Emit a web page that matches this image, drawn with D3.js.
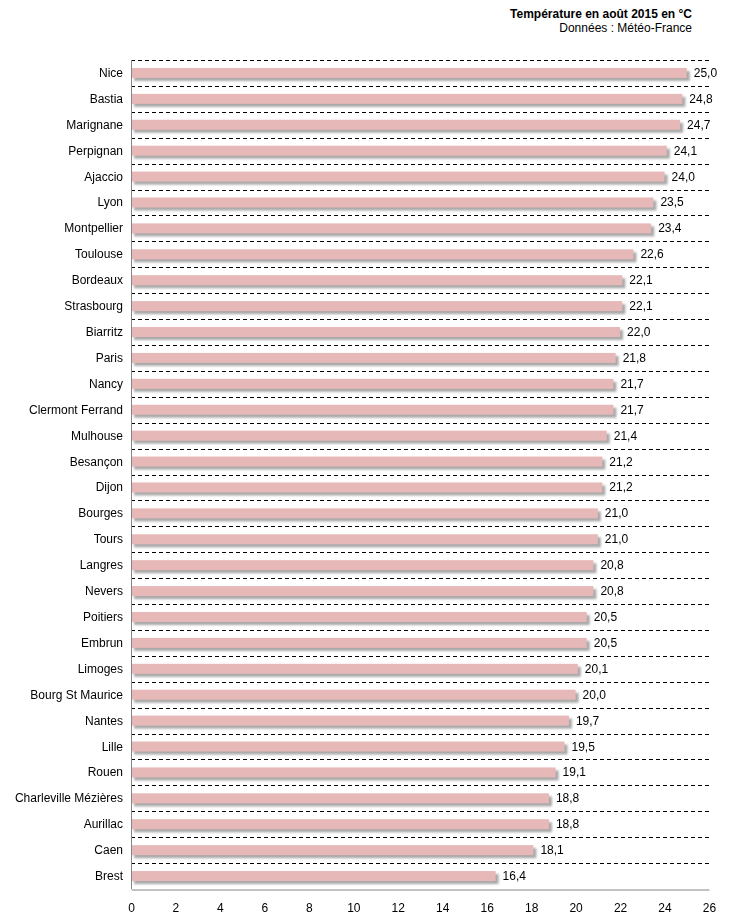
<!DOCTYPE html>
<html>
<head>
<meta charset="utf-8">
<script src="https://cdn.jsdelivr.net/npm/d3@7"></script>
<style>
  body { margin: 0; background: #fff; }
  text { font-family: "Liberation Sans", Arial, sans-serif; fill: #000; }
</style>
</head>
<body>
<div id="chart"></div>
<script>
// temperatures moyennes, août 2015
const cities = ["Nice", "Bastia", "Marignane", "Perpignan", "Ajaccio", "Lyon", "Montpellier",
  "Toulouse", "Bordeaux", "Strasbourg", "Biarritz", "Paris", "Nancy", "Clermont Ferrand",
  "Mulhouse", "Besançon", "Dijon", "Bourges", "Tours", "Langres", "Nevers", "Poitiers",
  "Embrun", "Limoges", "Bourg St Maurice", "Nantes", "Lille", "Rouen",
  "Charleville Mézières", "Aurillac", "Caen", "Brest"];
const temps = [25.0, 24.8, 24.7, 24.1, 24.0, 23.5, 23.4, 22.6, 22.1, 22.1, 22.0, 21.8, 21.7,
  21.7, 21.4, 21.2, 21.2, 21.0, 21.0, 20.8, 20.8, 20.5, 20.5, 20.1, 20.0, 19.7, 19.5, 19.1,
  18.8, 18.8, 18.1, 16.4];
const xTicks = [0, 2, 4, 6, 8, 10, 12, 14, 16, 18, 20, 22, 24, 26];
const title = "Température en août 2015 en °C";
const source = "Données : Météo-France";

const width = 729, height = 924;
const margin = {top: 60, right: 20, bottom: 35, left: 131};

const data = cities.map((c, i) => ({city: c, value: temps[i]}));

const svg = d3.select("#chart").append("svg")
  .attr("width", width)
  .attr("height", height);

// soft shadow under the bars
svg.append("defs")
  .append("filter")
    .attr("id", "soft")
    .attr("x", "-5%").attr("y", "-50%")
    .attr("width", "110%").attr("height", "200%")
  .append("feGaussianBlur")
    .attr("stdDeviation", 1.2);

const x = d3.scaleLinear()
  .domain([0, 26])
  .range([margin.left, width - margin.right]);

const y = d3.scaleBand()
  .domain(cities)
  .range([margin.top, height - margin.bottom]);

const fmt = v => v.toFixed(1).replace(".", ",");

// title block
svg.append("text")
  .attr("x", 692).attr("y", 18)
  .attr("text-anchor", "end")
  .style("font-size", "12px").style("font-weight", "bold")
  .text(title);
svg.append("text")
  .attr("x", 692).attr("y", 32)
  .attr("text-anchor", "end")
  .style("font-size", "12px")
  .text(source);

// dashed separators
svg.append("g")
  .selectAll("line")
  .data(cities)
  .enter()
  .append("line")
    .attr("x1", x(0)).attr("x2", x(26))
    .attr("y1", d => Math.round(y(d)) + 0.5)
    .attr("y2", d => Math.round(y(d)) + 0.5)
    .attr("stroke", "#000")
    .attr("stroke-dasharray", "4,3");

const barH = 10;

// shadows
svg.append("g")
  .attr("filter", "url(#soft)")
  .selectAll("rect")
  .data(data)
  .enter()
  .append("rect")
    .attr("x", x(0) + 3)
    .attr("y", d => y(d.city) + y.bandwidth() / 2 - barH / 2 + 3)
    .attr("width", d => x(d.value) - x(0))
    .attr("height", barH)
    .attr("fill", "#8c8c8c")
    .attr("opacity", 0.75);

// bars
svg.append("g")
  .selectAll("rect")
  .data(data)
  .enter()
  .append("rect")
    .attr("x", x(0) + 1)
    .attr("y", d => y(d.city) + y.bandwidth() / 2 - barH / 2)
    .attr("width", d => x(d.value) - x(0) - 1)
    .attr("height", barH)
    .attr("fill", "#e6b8b7");

// value labels
svg.append("g")
  .selectAll("text")
  .data(data)
  .enter()
  .append("text")
    .attr("x", d => x(d.value) + 7)
    .attr("y", d => y(d.city) + y.bandwidth() / 2 + 4)
    .style("font-size", "12px")
    .text(d => fmt(d.value));

// category labels
svg.append("g")
  .selectAll("text")
  .data(cities)
  .enter()
  .append("text")
    .attr("x", margin.left - 8)
    .attr("y", d => y(d) + y.bandwidth() / 2 + 4)
    .attr("text-anchor", "end")
    .style("font-size", "12px")
    .text(d => d);

// axes
const xAxis = d3.axisBottom(x)
  .tickValues(xTicks)
  .tickSize(0)
  .tickPadding(14)
  .tickFormat(d => d);

const gx = svg.append("g")
  .attr("transform", "translate(0," + (height - margin.bottom + 0.5) + ")")
  .call(xAxis);
gx.select(".domain").attr("stroke", "#868686");
gx.selectAll("text")
  .style("font-size", "12px")
  .style("font-family", '"Liberation Sans", Arial, sans-serif')
  .attr("fill", "#000");

svg.append("line")
  .attr("x1", x(0) + 0.5).attr("x2", x(0) + 0.5)
  .attr("y1", margin.top).attr("y2", height - margin.bottom)
  .attr("stroke", "#868686");
</script>
</body>
</html>
